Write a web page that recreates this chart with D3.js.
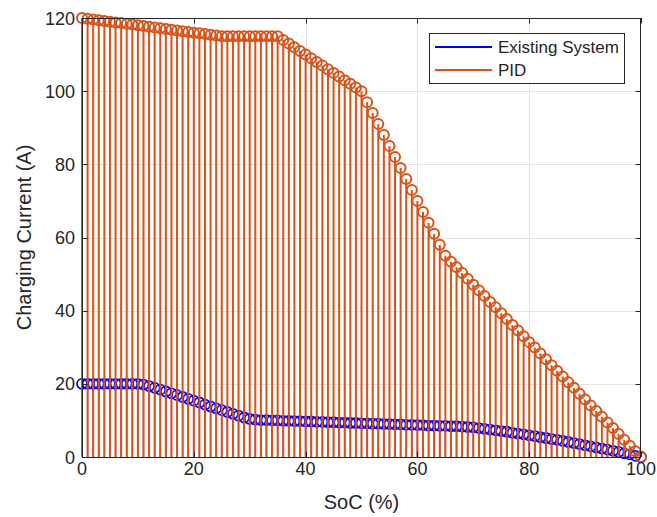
<!DOCTYPE html>
<html>
<head>
<meta charset="utf-8">
<script src="https://cdn.jsdelivr.net/npm/d3@7"></script>
<style>
  html, body { margin: 0; padding: 0; background: #fff; }
  svg { display: block; }
  text { font-family: "Liberation Sans", Arial, sans-serif; fill: #262626; }
</style>
</head>
<body>
<svg id="chart" width="657" height="517"></svg>
<script>
// ---- data ----
const soc = d3.range(0, 101);   // SoC (%) sample points 0..100

const existingSystem = [
  20, 20, 20, 20, 20, 20, 20, 20, 20, 20, 20,
  19.8, 19.4, 18.9, 18.4, 17.9, 17.4, 16.9, 16.4, 15.9, 15.4,
  14.9, 14.3, 13.8, 13.3, 12.8, 12.3, 11.8, 11.3, 10.8, 10.4,
  10.2, 10.1, 10.1, 10.0, 10.0, 9.9, 9.9, 9.8, 9.8, 9.7,
  9.7, 9.6, 9.6, 9.5, 9.5, 9.4, 9.4, 9.3, 9.3, 9.2,
  9.2, 9.1, 9.1, 9.0, 9.0, 8.9, 8.9, 8.8, 8.8, 8.7,
  8.7, 8.6, 8.6, 8.5, 8.5, 8.4, 8.4, 8.3, 8.2, 8.1,
  7.9, 7.7, 7.5, 7.3, 7.1, 6.9, 6.6, 6.4, 6.2, 5.9,
  5.7, 5.4, 5.2, 4.9, 4.7, 4.4, 4.1, 3.8, 3.5, 3.2,
  2.9, 2.6, 2.3, 2.0, 1.7, 1.4, 1.0, 0.7, 0.3, 0
];

const pid = [
  120, 119.8, 119.6, 119.4, 119.2, 119, 118.8, 118.6, 118.4, 118.2,
  118, 117.8, 117.6, 117.4, 117.2, 117, 116.8, 116.6, 116.4, 116.2,
  116, 115.8, 115.6, 115.4, 115.2, 115,
  115, 115, 115, 115, 115, 115, 115, 115, 115, 115,
  114, 113, 112, 111, 110, 109, 108, 107, 106, 105,
  104, 103, 102, 101, 100,
  97, 94, 91, 88, 85, 82, 79, 76, 73, 70,
  67, 64, 61, 58, 55,
  53.4, 51.9, 50.3, 48.7, 47.1, 45.6, 44, 42.4, 40.9, 39.3,
  37.7, 36.1, 34.6, 33, 31.4, 29.9, 28.3, 26.7, 25.1, 23.6,
  22, 20.4, 18.9, 17.3, 15.7, 14.1, 12.6, 11, 9.4, 7.9,
  6.3, 4.7, 3.1, 1.6, 0
];

const xTicks = [0, 20, 40, 60, 80, 100];
const yTicks = [0, 20, 40, 60, 80, 100, 120];
const seriesNames = ["Existing System", "PID"];
const seriesColors = ["#0000ff", "#d95319"];
const xLabel = "SoC (%)";
const yLabel = "Charging Current (A)";

// ---- layout ----
const svg = d3.select("#chart");
const L = 82, R = 641, T = 18, B = 457;
const x = d3.scaleLinear().domain([0, 100]).range([L, R]);
const y = d3.scaleLinear().domain([0, 120]).range([B, T]);
const axisColor = "#262626";
const tickLen = 5.5;

// grid
const grid = svg.append("g");
grid.selectAll(".gx").data(xTicks.slice(1, -1)).enter().append("line")
  .attr("x1", d => Math.round(x(d)) + 0.5).attr("x2", d => Math.round(x(d)) + 0.5)
  .attr("y1", T).attr("y2", B).attr("stroke", "#e3e3e3").attr("stroke-width", 1);
grid.selectAll(".gy").data(yTicks.slice(1, -1)).enter().append("line")
  .attr("y1", d => Math.round(y(d)) + 0.5).attr("y2", d => Math.round(y(d)) + 0.5)
  .attr("x1", L).attr("x2", R).attr("stroke", "#e3e3e3").attr("stroke-width", 1);

// stem series
function drawStem(values, color, sw, msw, r) {
  const g = svg.append("g");
  g.selectAll("line").data(values).enter().append("line")
    .attr("x1", (d, i) => x(soc[i])).attr("x2", (d, i) => x(soc[i]))
    .attr("y1", y(0)).attr("y2", d => y(d))
    .attr("stroke", color).attr("stroke-width", sw);
  g.selectAll("circle").data(values).enter().append("circle")
    .attr("cx", (d, i) => x(soc[i])).attr("cy", d => y(d))
    .attr("r", r).attr("fill", "none")
    .attr("stroke", color).attr("stroke-width", msw);
}
drawStem(existingSystem, seriesColors[0], 1.2, 1.8, 5);
drawStem(pid, seriesColors[1], 2, 2, 5);

// axes box
const ax = svg.append("g");
ax.append("rect").attr("x", L + 0.5).attr("y", T + 0.5)
  .attr("width", R - L - 1).attr("height", B - T)
  .attr("fill", "none").attr("stroke", axisColor).attr("stroke-width", 1);

// ticks (inward, all four sides)
xTicks.forEach(t => {
  const px = Math.round(x(t)) + 0.5;
  ax.append("line").attr("x1", px).attr("x2", px).attr("y1", B).attr("y2", B - tickLen).attr("stroke", axisColor);
  ax.append("line").attr("x1", px).attr("x2", px).attr("y1", T).attr("y2", T + tickLen).attr("stroke", axisColor);
  ax.append("text").attr("x", x(t)).attr("y", 475).attr("text-anchor", "middle")
    .attr("font-size", 18).text(t);
});
yTicks.forEach(t => {
  const py = Math.round(y(t)) + 0.5;
  ax.append("line").attr("y1", py).attr("y2", py).attr("x1", L).attr("x2", L + tickLen).attr("stroke", axisColor);
  ax.append("line").attr("y1", py).attr("y2", py).attr("x1", R).attr("x2", R - tickLen).attr("stroke", axisColor);
  ax.append("text").attr("x", 75).attr("y", y(t) + 6.5).attr("text-anchor", "end")
    .attr("font-size", 18).text(t);
});

// axis labels
svg.append("text").attr("x", (L + R) / 2).attr("y", 509).attr("text-anchor", "middle")
  .attr("font-size", 20).text(xLabel);
svg.append("text").attr("transform", `translate(31,${(T + B) / 2}) rotate(-90)`)
  .attr("text-anchor", "middle").attr("font-size", 20).text(yLabel);

// legend
const lg = svg.append("g");
lg.append("rect").attr("x", 429.5).attr("y", 33.5).attr("width", 195).attr("height", 50)
  .attr("fill", "#fff").attr("stroke", axisColor).attr("stroke-width", 1);
seriesNames.forEach((name, i) => {
  const ly = 47 + i * 23;
  lg.append("line").attr("x1", 435).attr("x2", 492).attr("y1", ly).attr("y2", ly)
    .attr("stroke", seriesColors[i]).attr("stroke-width", 2);
  lg.append("text").attr("x", 498).attr("y", ly + 6).attr("font-size", 17).text(name);
});
</script>
</body>
</html>
